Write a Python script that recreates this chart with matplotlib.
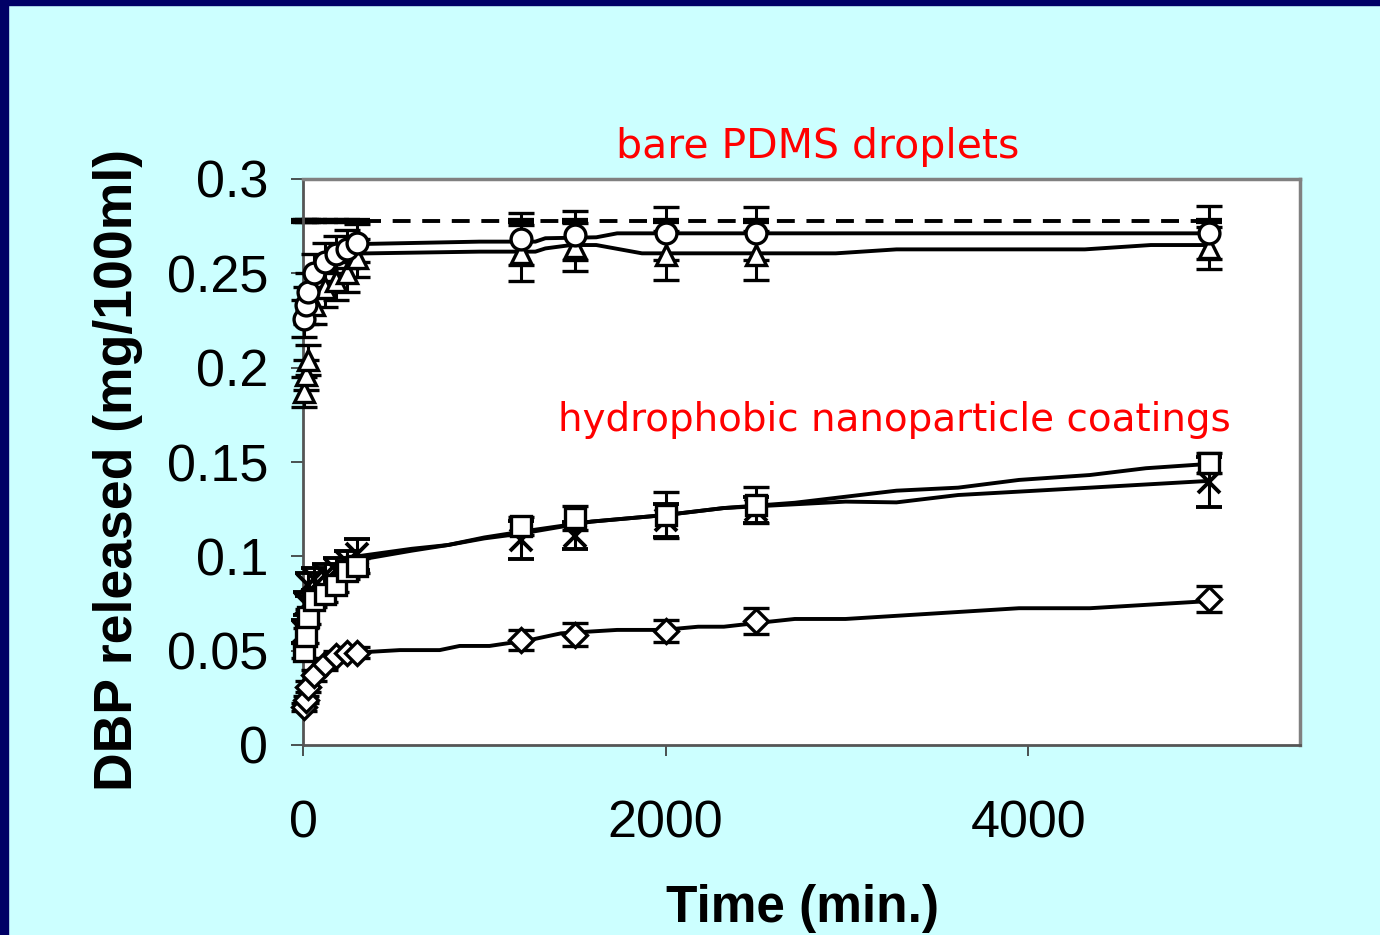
import numpy as np
import matplotlib
matplotlib.use("Agg")
import matplotlib.pyplot as plt
from matplotlib.patches import Rectangle

# sampling times (min.)
times = [5, 15, 30, 60, 120, 180, 240, 300, 1200, 1500, 2000, 2500, 5000]

# bare PDMS droplets
bare_circle = [0.226, 0.233, 0.240, 0.250, 0.256, 0.260, 0.263, 0.266,
               0.268, 0.2703, 0.2712, 0.2712, 0.2715]
bare_circle_err = [0.010, 0.010, 0.010, 0.010, 0.010, 0.010, 0.010, 0.010,
                   0.0138, 0.013, 0.014, 0.014, 0.014]
bare_tri = [0.187, 0.196, 0.204, 0.233, 0.242, 0.246, 0.250, 0.258,
            0.2608, 0.264, 0.2597, 0.2597, 0.2633]
bare_tri_err = [0.008, 0.008, 0.008, 0.010, 0.010, 0.010, 0.010, 0.010,
                0.015, 0.0125, 0.013, 0.013, 0.011]
dbp_total = 0.2777

# hydrophobic nanoparticle coatings
coat_square = [0.050, 0.058, 0.068, 0.077, 0.080, 0.085, 0.092, 0.095,
               0.1161, 0.1203, 0.1219, 0.127, 0.1493]
coat_square_err = [0.004, 0.004, 0.004, 0.004, 0.004, 0.004, 0.004, 0.004,
                   0.005, 0.0064, 0.0124, 0.0095, 0.0053]
coat_x = [0.060, 0.075, 0.085, 0.088, 0.090, 0.093, 0.097, 0.101,
          0.1087, 0.111, 0.119, 0.1245, 0.1396]
coat_x_err = [0.006, 0.006, 0.006, 0.006, 0.006, 0.006, 0.006, 0.008,
              0.010, 0.007, 0.009, 0.007, 0.0133]
coat_diamond = [0.020, 0.024, 0.031, 0.037, 0.043, 0.047, 0.049, 0.049,
                0.0555, 0.0585, 0.0605, 0.0655, 0.0775]
coat_diamond_err = [0.002, 0.002, 0.003, 0.003, 0.003, 0.003, 0.003, 0.003,
                    0.0053, 0.006, 0.0058, 0.0069, 0.0069]

# model curves
fit_circle_t = [300, 974, 1282, 1337, 1618, 1733, 5000]
fit_circle_y = [0.2655, 0.2668, 0.2668, 0.2686, 0.2691, 0.2712, 0.2712]
fit_tri_t = [300, 974, 1282, 1337, 1479, 1618, 1870, 2939, 3274, 4313, 4677, 5000]
fit_tri_y = [0.2605, 0.2615, 0.2615, 0.2632, 0.265, 0.265, 0.2606, 0.2606,
             0.2627, 0.2627, 0.265, 0.265]
fit_square_t = [300, 600, 800, 1000, 1200, 1590, 2000, 2322, 2713, 3274,
                3614, 3950, 4341, 4650, 5000]
fit_square_y = [0.098, 0.103, 0.106, 0.110, 0.113, 0.1184, 0.1219, 0.1256,
                0.1284, 0.1348, 0.1364, 0.1405, 0.1431, 0.1467, 0.149]
fit_x_t = [300, 600, 800, 1000, 1200, 1590, 2000, 2322, 2993, 3274, 3614,
           3950, 4341, 5000]
fit_x_y = [0.100, 0.104, 0.106, 0.1095, 0.112, 0.1184, 0.1219, 0.1256,
           0.129, 0.1286, 0.1325, 0.1343, 0.1364, 0.140]
fit_diamond_t = [300, 534, 754, 864, 1029, 1254, 1424, 1733, 1986, 2180,
                 2322, 2488, 2713, 2993, 3950, 4341, 5000]
fit_diamond_y = [0.049, 0.0503, 0.0503, 0.0525, 0.0525, 0.0557, 0.0592,
                 0.061, 0.061, 0.0627, 0.0627, 0.0645, 0.0668, 0.0668,
                 0.0725, 0.0725, 0.0763]

BG = "#CCFFFF"
NAVY = "#000066"

fig = plt.figure(figsize=(13.8, 9.35), dpi=100, facecolor=BG)
# slide frame
fig.patches.append(Rectangle((0, 0), 8 / 1380, 1, transform=fig.transFigure,
                             color=NAVY, zorder=0))
fig.patches.append(Rectangle((0, 1 - 5 / 935), 1, 5 / 935,
                             transform=fig.transFigure, color=NAVY, zorder=0))

ax = fig.add_axes([303 / 1380, 190 / 935, 997 / 1380, 566 / 935])
ax.set_facecolor("white")

lw = 2.8
ax.plot(fit_circle_t, fit_circle_y, color="black", lw=lw, zorder=2)
ax.plot(fit_tri_t, fit_tri_y, color="black", lw=lw, zorder=2)
ax.plot(fit_square_t, fit_square_y, color="black", lw=lw, zorder=2)
ax.plot(fit_x_t, fit_x_y, color="black", lw=lw, zorder=2)
ax.plot(fit_diamond_t, fit_diamond_y, color="black", lw=lw, zorder=2)

# total DBP (dashed)
ax.plot(times, np.full(len(times), dbp_total), color="black", lw=lw,
        ls=(0, (4.6, 3.0)), marker="_", ms=19, mew=4.5, zorder=2,
        clip_on=False)

err_kw = dict(ls="none", ecolor="black", elinewidth=2.2, capsize=9.5,
              capthick=2.8, mec="black", mfc="white", mew=2.4, zorder=3,
              clip_on=False)
series = [
    (coat_x, coat_x_err, "x", 16),
    (coat_square, coat_square_err, "s", 14),
    (coat_diamond, coat_diamond_err, "D", 12),
    (bare_tri, bare_tri_err, "^", 15),
    (bare_circle, bare_circle_err, "o", 15),
]
for vals, errs, mk, ms in series:
    kw = dict(err_kw)
    if mk == "x":
        kw["mew"] = 2.8
    ax.errorbar(times, vals, yerr=errs, marker=mk, ms=ms, **kw)

ax.set_xlim(0, 5500)
ax.set_ylim(0, 0.3)
ax.set_xticks([0, 2000, 4000])
ax.set_yticks([0, 0.05, 0.1, 0.15, 0.2, 0.25, 0.3])
ax.set_yticklabels(["0", "0.05", "0.1", "0.15", "0.2", "0.25", "0.3"])
ax.tick_params(axis="y", direction="out", length=9, width=1.2,
               color="#333333", pad=16, labelsize=37.5)
ax.tick_params(axis="x", direction="out", length=8, width=1.2,
               color="#333333", pad=31, labelsize=37.5)
for lab in ax.get_xticklabels() + ax.get_yticklabels():
    lab.set_fontfamily("Liberation Sans")

for side in ["top", "right"]:
    ax.spines[side].set_color("#808080")
    ax.spines[side].set_linewidth(2.5)
for side in ["left", "bottom"]:
    ax.spines[side].set_color("#555555")
    ax.spines[side].set_linewidth(2)

fig.text(118 / 1380, 1 - 470 / 935, "DBP released (mg/100ml)", fontsize=38.5,
         fontweight="bold", family="Liberation Sans", rotation=90,
         ha="center", va="center")
fig.text(802 / 1380, 13 / 935, "Time (min.)", fontsize=37, fontweight="bold",
         family="Liberation Sans", ha="center", va="baseline")

fig.text(818 / 1380, 1 - 147 / 935, "bare PDMS droplets", color="#FF0000",
         fontsize=29.5, family="DejaVu Sans", ha="center", va="center")
fig.text(894 / 1380, 1 - 420 / 935, "hydrophobic nanoparticle coatings",
         color="#FF0000", fontsize=28, family="DejaVu Sans", ha="center",
         va="center")

fig.savefig("out.png", dpi=100, facecolor=BG)
